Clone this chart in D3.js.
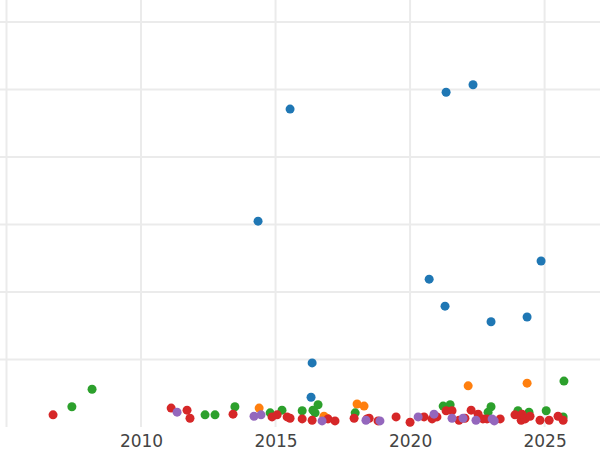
<!DOCTYPE html>
<html>
<head>
<script src="https://d3js.org/d3.v7.min.js"></script>
<style>body{margin:0;background:#fff}</style>
</head>
<body>
<div id="chart"></div>
<script>
var blueX = [2015.54,2014.35,2021.34,2022.34,2020.71,2021.30,2023.01,2024.35,2024.87,2016.36,2016.32];
var blueY = [4.71,3.05,4.96,5.07,2.19,1.79,1.56,1.63,2.46,0.95,0.44];
var orangeX = [2014.39,2018.03,2018.29,2016.80,2022.16,2024.35,2016.91];
var orangeY = [0.28,0.34,0.31,0.16,0.61,0.65,0.13];
var greenX = [2007.43,2008.18,2025.72,2013.49,2012.38,2012.75,2014.80,2015.24,2015.99,2016.58,2016.39,2016.47,2017.96,2021.23,2021.49,2023.01,2022.90,2024.01,2024.42,2025.06,2025.69];
var greenY = [0.30,0.56,0.68,0.30,0.18,0.18,0.21,0.25,0.24,0.33,0.25,0.21,0.21,0.31,0.33,0.30,0.22,0.24,0.22,0.24,0.15];
var redX = [2006.73,2011.12,2011.71,2011.82,2013.42,2014.87,2015.06,2015.43,2015.54,2015.99,2016.36,2016.95,2017.21,2017.92,2018.48,2018.40,2018.81,2019.48,2020.00,2020.52,2020.82,2021.00,2021.34,2021.56,2021.82,2022.04,2022.27,2022.53,2022.71,2022.86,2023.35,2023.90,2024.13,2024.28,2024.46,2024.83,2025.17,2025.50,2025.69,2024.16];
var redY = [0.18,0.28,0.25,0.13,0.19,0.15,0.18,0.15,0.13,0.12,0.10,0.12,0.09,0.13,0.13,0.12,0.09,0.15,0.07,0.15,0.12,0.15,0.24,0.24,0.10,0.13,0.25,0.19,0.12,0.12,0.12,0.18,0.10,0.12,0.16,0.10,0.10,0.16,0.10,0.19];
var purpleX = [2011.34,2014.20,2014.46,2016.73,2018.36,2018.88,2020.30,2020.89,2021.56,2021.97,2022.45,2023.05,2023.13];
var purpleY = [0.22,0.16,0.18,0.09,0.10,0.09,0.15,0.19,0.13,0.13,0.10,0.12,0.09];
var xTicks = [2010, 2015, 2020, 2025];

var series = [
    {x: blueX, y: blueY, color: "#1f77b4"},
    {x: orangeX, y: orangeY, color: "#ff7f0e"},
    {x: greenX, y: greenY, color: "#2ca02c"},
    {x: redX, y: redY, color: "#d62728"},
    {x: purpleX, y: purpleY, color: "#9467bd"}
];

var width = 600, height = 450, plotBottom = 427;

var svg = d3.select("#chart").append("svg")
    .attr("width", width)
    .attr("height", height);

var x = d3.scaleLinear().domain([2004.758, 2027.06]).range([0, width]);
var y = d3.scaleLinear().domain([0, 6.326]).range([plotBottom, 0]);

// grid
svg.append("g").selectAll("line")
    .data([2005].concat(xTicks))
    .enter().append("line")
    .attr("x1", d => x(d)).attr("x2", d => x(d))
    .attr("y1", 0).attr("y2", plotBottom)
    .attr("stroke", "#ebebeb").attr("stroke-width", 2);

svg.append("g").selectAll("line")
    .data(d3.range(1, 7))
    .enter().append("line")
    .attr("x1", 0).attr("x2", width)
    .attr("y1", d => y(d)).attr("y2", d => y(d))
    .attr("stroke", "#ebebeb").attr("stroke-width", 2);

// x axis labels
var xAxis = d3.axisBottom(x).tickValues(xTicks).tickSize(0).tickPadding(8).tickFormat(d3.format("d"));
var ax = svg.append("g").attr("transform", "translate(0," + plotBottom + ")").call(xAxis);
ax.select(".domain").remove();
ax.selectAll("text").attr("font-family", "DejaVu Sans, sans-serif").attr("font-size", 17).attr("fill", "#444");

series.forEach(function(s) {
    svg.append("g").selectAll("circle")
        .data(s.x.map((d, i) => [d, s.y[i]]))
        .enter().append("circle")
        .attr("cx", d => x(d[0]))
        .attr("cy", d => y(d[1]))
        .attr("r", 4.5)
        .attr("fill", s.color);
});
</script>
</body>
</html>
